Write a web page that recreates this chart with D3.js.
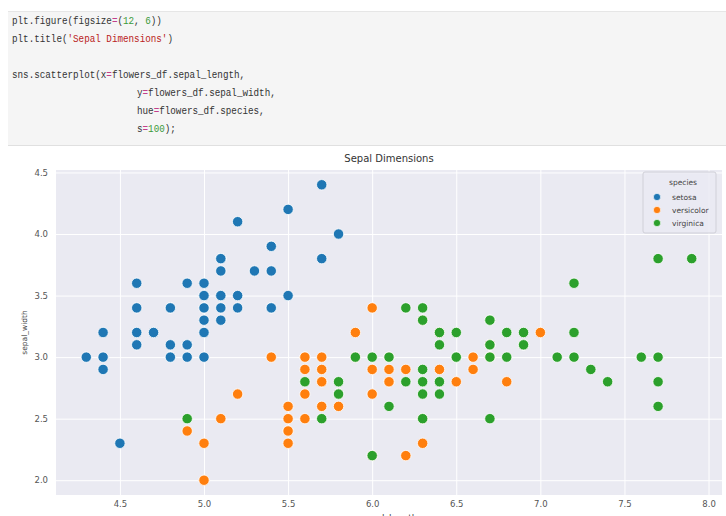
<!DOCTYPE html>
<html>
<head>
<meta charset="utf-8">
<script src="https://cdn.jsdelivr.net/npm/d3@7"></script>
<style>
  body { margin: 0; background: #fff; }
  svg { display: block; }
</style>
</head>
<body>
<script>
// iris sepal measurements, one pair of arrays per species
var setosaLength = [5.1,4.9,4.7,4.6,5.0,5.4,4.6,5.0,4.4,4.9,5.4,4.8,4.8,4.3,5.8,5.7,5.4,5.1,5.7,5.1,5.4,5.1,4.6,5.1,4.8,5.0,5.0,5.2,5.2,4.7,4.8,5.4,5.2,5.5,4.9,5.0,5.5,4.9,4.4,5.1,5.0,4.5,4.4,5.0,5.1,4.8,5.1,4.6,5.3,5.0];
var setosaWidth  = [3.5,3.0,3.2,3.1,3.6,3.9,3.4,3.4,2.9,3.1,3.7,3.4,3.0,3.0,4.0,4.4,3.9,3.5,3.8,3.8,3.4,3.7,3.6,3.3,3.4,3.0,3.4,3.5,3.4,3.2,3.1,3.4,4.1,4.2,3.1,3.2,3.5,3.6,3.0,3.4,3.5,2.3,3.2,3.5,3.8,3.0,3.8,3.2,3.7,3.3];

var versicolorLength = [7.0,6.4,6.9,5.5,6.5,5.7,6.3,4.9,6.6,5.2,5.0,5.9,6.0,6.1,5.6,6.7,5.6,5.8,6.2,5.6,5.9,6.1,6.3,6.1,6.4,6.6,6.8,6.7,6.0,5.7,5.5,5.5,5.8,6.0,5.4,6.0,6.7,6.3,5.6,5.5,5.5,6.1,5.8,5.0,5.6,5.7,5.7,6.2,5.1,5.7];
var versicolorWidth  = [3.2,3.2,3.1,2.3,2.8,2.8,3.3,2.4,2.9,2.7,2.0,3.0,2.2,2.9,2.9,3.1,3.0,2.7,2.2,2.5,3.2,2.8,2.5,2.8,2.9,3.0,2.8,3.0,2.9,2.6,2.4,2.4,2.7,2.7,3.0,3.4,3.1,2.3,3.0,2.5,2.6,3.0,2.6,2.3,2.7,3.0,2.9,2.9,2.5,2.8];

var virginicaLength = [6.3,5.8,7.1,6.3,6.5,7.6,4.9,7.3,6.7,7.2,6.5,6.4,6.8,5.7,5.8,6.4,6.5,7.7,7.7,6.0,6.9,5.6,7.7,6.3,6.7,7.2,6.2,6.1,6.4,7.2,7.4,7.9,6.4,6.3,6.1,7.7,6.3,6.4,6.0,6.9,6.7,6.9,5.8,6.8,6.7,6.7,6.3,6.5,6.2,5.9];
var virginicaWidth  = [3.3,2.7,3.0,2.9,3.0,3.0,2.5,2.9,2.5,3.6,3.2,2.7,3.0,2.5,2.8,3.2,3.0,3.8,2.6,2.2,3.2,2.8,2.8,2.7,3.3,3.2,2.8,3.0,2.8,3.0,2.8,3.8,2.8,2.8,2.6,3.0,3.4,3.1,3.0,3.1,3.1,3.1,2.7,3.2,3.3,3.0,2.5,3.0,3.4,3.0];

var speciesNames = ["setosa", "versicolor", "virginica"];
var speciesColors = ["#1f77b4", "#ff7f0e", "#2ca02c"];
var xTicks = [4.5, 5.0, 5.5, 6.0, 6.5, 7.0, 7.5, 8.0];
var yTicks = [2.0, 2.5, 3.0, 3.5, 4.0, 4.5];

// notebook cell source, each token with its highlight class
var codeLines = [
  {x: 12, y: 24, parts: [["plt.figure(figsize", "n"], ["=", "o"], ["(", "n"], ["12", "m"], [", ", "n"], ["6", "m"], ["))", "n"]]},
  {x: 12, y: 42, parts: [["plt.title(", "n"], ["'Sepal Dimensions'", "s"], [")", "n"]]},
  {x: 12, y: 78, parts: [["sns.scatterplot(x", "n"], ["=", "o"], ["flowers_df.sepal_length,", "n"]]},
  {x: 137, y: 96, parts: [["y", "n"], ["=", "o"], ["flowers_df.sepal_width,", "n"]]},
  {x: 137, y: 114, parts: [["hue", "n"], ["=", "o"], ["flowers_df.species,", "n"]]},
  {x: 137, y: 132, parts: [["s", "n"], ["=", "o"], ["100", "m"], [");", "n"]]}
];
var codeColors = {n: "#333333", o: "#c2408a", m: "#3a9a3a", s: "#ba2121"};

var width = 726, height = 516;
var charW = 5.55;

var svg = d3.select("body").append("svg")
    .attr("width", width)
    .attr("height", height);

// ---- code cell ----
svg.append("rect")
    .attr("x", 8).attr("y", 11)
    .attr("width", width - 8).attr("height", 135)
    .attr("fill", "#f5f5f5");
svg.append("line")
    .attr("x1", 8).attr("x2", width)
    .attr("y1", 11.5).attr("y2", 11.5)
    .attr("stroke", "#e6e6e6");
svg.append("line")
    .attr("x1", 8).attr("x2", width)
    .attr("y1", 145.5).attr("y2", 145.5)
    .attr("stroke", "#e0e0e0");

codeLines.forEach(function(line) {
  var n = line.parts.reduce(function(a, p) { return a + p[0].length; }, 0);
  var t = svg.append("text")
      .attr("x", line.x).attr("y", line.y)
      .attr("font-family", "Liberation Mono, DejaVu Sans Mono, monospace")
      .attr("font-size", 11)
      .attr("textLength", n * charW)
      .attr("lengthAdjust", "spacingAndGlyphs")
      .style("white-space", "pre");
  line.parts.forEach(function(p) {
    t.append("tspan")
        .attr("fill", codeColors[p[1]])
        .text(p[0]);
  });
});

// ---- chart ----
var plot = {left: 56, right: 722, top: 170, bottom: 495};

var x = d3.scaleLinear().domain([4.12, 8.08]).range([plot.left, plot.right]);
var y = d3.scaleLinear().domain([1.88, 4.52]).range([plot.bottom, plot.top]);

svg.append("rect")
    .attr("x", plot.left).attr("y", plot.top)
    .attr("width", plot.right - plot.left)
    .attr("height", plot.bottom - plot.top)
    .attr("fill", "#eaeaf2");

// grid
svg.append("g")
    .attr("transform", "translate(0," + plot.bottom + ")")
    .call(d3.axisBottom(x).tickValues(xTicks).tickSize(-(plot.bottom - plot.top)).tickFormat(""))
    .call(function(g) {
      g.select(".domain").remove();
      g.selectAll("line").attr("stroke", "#ffffff").attr("stroke-width", 1);
    });
svg.append("g")
    .attr("transform", "translate(" + plot.left + ",0)")
    .call(d3.axisLeft(y).tickValues(yTicks).tickSize(-(plot.right - plot.left)).tickFormat(""))
    .call(function(g) {
      g.select(".domain").remove();
      g.selectAll("line").attr("stroke", "#ffffff").attr("stroke-width", 1);
    });

// tick labels
svg.append("g")
    .attr("transform", "translate(0," + plot.bottom + ")")
    .call(d3.axisBottom(x).tickValues(xTicks).tickSize(0).tickPadding(6).tickFormat(d3.format(".1f")))
    .call(function(g) {
      g.select(".domain").remove();
      g.selectAll("text").attr("fill", "#555").attr("font-size", 8.5)
        .attr("font-family", "DejaVu Sans, sans-serif");
    });
svg.append("g")
    .attr("transform", "translate(" + plot.left + ",0)")
    .call(d3.axisLeft(y).tickValues(yTicks).tickSize(0).tickPadding(8).tickFormat(d3.format(".1f")))
    .call(function(g) {
      g.select(".domain").remove();
      g.selectAll("text").attr("fill", "#555").attr("font-size", 8.5)
        .attr("font-family", "DejaVu Sans, sans-serif");
    });

// titles
svg.append("text")
    .attr("x", (plot.left + plot.right) / 2).attr("y", 162)
    .attr("text-anchor", "middle")
    .attr("font-family", "DejaVu Sans, sans-serif")
    .attr("font-size", 10).attr("fill", "#333")
    .text("Sepal Dimensions");
svg.append("text")
    .attr("x", (plot.left + plot.right) / 2).attr("y", 521)
    .attr("text-anchor", "middle")
    .attr("font-family", "DejaVu Sans, sans-serif")
    .attr("font-size", 9).attr("fill", "#444")
    .text("sepal_length");
svg.append("text")
    .attr("transform", "translate(27," + ((plot.top + plot.bottom) / 2) + ") rotate(-90)")
    .attr("text-anchor", "middle")
    .attr("font-family", "DejaVu Sans, sans-serif")
    .attr("font-size", 7.5).attr("fill", "#444")
    .text("sepal_width");

// points, drawn in data order like seaborn
var species = [
  {name: speciesNames[0], color: speciesColors[0], xs: setosaLength, ys: setosaWidth},
  {name: speciesNames[1], color: speciesColors[1], xs: versicolorLength, ys: versicolorWidth},
  {name: speciesNames[2], color: speciesColors[2], xs: virginicaLength, ys: virginicaWidth}
];

species.forEach(function(s) {
  var pts = s.xs.map(function(v, i) { return [v, s.ys[i]]; });
  svg.append("g").selectAll("circle")
      .data(pts)
      .join("circle")
      .attr("cx", function(d) { return x(d[0]); })
      .attr("cy", function(d) { return y(d[1]); })
      .attr("r", 5.2)
      .attr("fill", s.color)
      .attr("stroke", "#ffffff")
      .attr("stroke-width", 0.8);
});

// legend
var legend = svg.append("g").attr("transform", "translate(643,172)");
legend.append("rect")
    .attr("width", 73).attr("height", 61).attr("rx", 2)
    .attr("fill", "#eaeaf2").attr("fill-opacity", 0.8)
    .attr("stroke", "#d0d0d8");
legend.append("text")
    .attr("x", 40).attr("y", 13)
    .attr("text-anchor", "middle")
    .attr("font-family", "DejaVu Sans, sans-serif")
    .attr("font-size", 7.5).attr("fill", "#444")
    .text("species");
species.forEach(function(s, i) {
  legend.append("circle")
      .attr("cx", 14).attr("cy", 25 + i * 13)
      .attr("r", 3.6)
      .attr("fill", s.color)
      .attr("stroke", "#fff").attr("stroke-width", 0.6);
  legend.append("text")
      .attr("x", 29).attr("y", 28 + i * 13)
      .attr("font-family", "DejaVu Sans, sans-serif")
      .attr("font-size", 7.5).attr("fill", "#444")
      .text(s.name);
});
</script>
</body>
</html>
